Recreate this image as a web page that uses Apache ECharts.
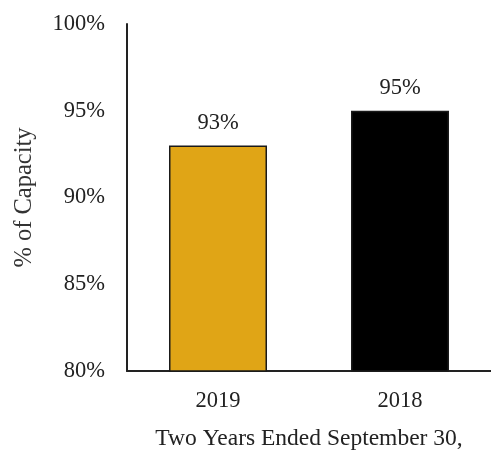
<!DOCTYPE html>
<html>
<head>
<meta charset="utf-8">
<script src="https://cdn.jsdelivr.net/npm/echarts@6/dist/echarts.min.js"></script>
<style>
  html, body { margin: 0; padding: 0; background: #fff; }
  #chart { width: 491px; height: 456px; }
</style>
</head>
<body>
<div id="chart"></div>
<script>
var years = ['2019', '2018'];
var capacity = [93, 95];
var barColors = ['#E0A516', '#000000'];
var yTicks = [80, 85, 90, 95, 100];

var font = '"Liberation Serif", "Times New Roman", serif';

var option = {
    backgroundColor: '#fff',
    animation: false,
    grid: {
        left: 127,
        right: 0,
        top: 24,
        bottom: 84
    },
    xAxis: {
        type: 'category',
        data: years,
        name: 'Two Years Ended September 30,',
        nameLocation: 'middle',
        nameGap: 56,
        nameTextStyle: { fontFamily: font, fontSize: 23.5, color: '#222' },
        axisLine: { lineStyle: { color: '#222', width: 2 } },
        axisTick: { show: false },
        axisLabel: { fontFamily: font, fontSize: 22.5, color: '#222', margin: 19 }
    },
    yAxis: {
        type: 'value',
        min: yTicks[0],
        max: yTicks[yTicks.length - 1],
        interval: 5,
        name: '% of Capacity',
        nameLocation: 'middle',
        nameGap: 90,
        nameTextStyle: { fontFamily: font, fontSize: 24.5, color: '#333' },
        axisLine: { show: true, lineStyle: { color: '#222', width: 2 } },
        axisTick: { show: false },
        splitLine: { show: false },
        axisLabel: {
            fontFamily: font,
            fontSize: 22.5,
            color: '#222',
            margin: 22,
            padding: [5, 0, 0, 0],
            formatter: '{value}%'
        }
    },
    series: [{
        type: 'bar',
        barWidth: 98,
        data: capacity.map(function (v, i) {
            return {
                value: v,
                itemStyle: { color: barColors[i], borderColor: '#1a1a1a', borderWidth: 1.5 }
            };
        }),
        label: {
            show: true,
            position: 'top',
            distance: 11,
            fontFamily: font,
            fontSize: 22.5,
            color: '#222',
            formatter: '{c}%'
        }
    }]
};

var myChart = echarts.init(document.getElementById('chart'));
myChart.setOption(option);
</script>
</body>
</html>
